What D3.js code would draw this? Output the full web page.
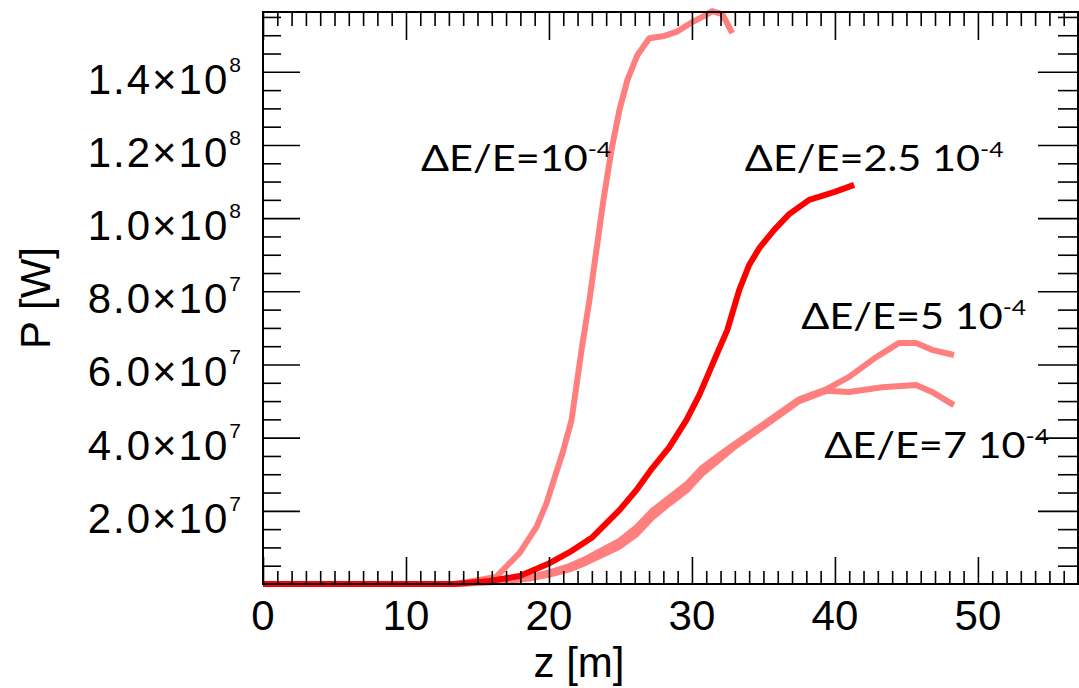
<!DOCTYPE html>
<html>
<head>
<meta charset="utf-8">
<script src="https://cdn.jsdelivr.net/npm/d3@7"></script>
<style>
  body { margin: 0; background: #fff; }
  svg { display: block; }
  .tick-label { font-family: "Liberation Sans", Arial, sans-serif; font-size: 42px; fill: #000; }
  .note { font-family: Lato, "Noto Sans", sans-serif; font-size: 37px; fill: #000; }
</style>
</head>
<body>
<svg id="chart" width="1079" height="688"></svg>
<script>
// P(z) for each energy spread, z in m, P in W
const zTight = [0, 13.5, 16.3, 17.95, 19.13, 19.83, 20.39, 20.95, 21.58, 22.28, 22.83, 23.32, 23.81, 24.37, 24.93, 25.49, 26.19, 27.02, 28.07, 28.91, 30.03, 30.87, 31.42, 32.12, 32.82]
const pTight = [0, 0, 1.9e6, 8.5e6, 1.56e7, 2.21e7, 2.9e7, 3.58e7, 4.48e7, 6.4e7, 7.76e7, 9.13e7, 1.05e8, 1.186e8, 1.296e8, 1.378e8, 1.446e8, 1.492e8, 1.498e8, 1.509e8, 1.536e8, 1.553e8, 1.566e8, 1.558e8, 1.506e8]

const zMid = [0, 13.4, 15.85, 17.95, 20.04, 21.44, 23.04, 24.93, 26.12, 27.23, 28.42, 29.61, 30.52, 31.56, 32.47, 33.31, 34.0, 34.71, 35.75, 36.8, 38.2, 39.94, 41.34]
const pMid = [0, 0, 8e5, 2.2e6, 5.7e6, 8.7e6, 1.28e7, 2.02e7, 2.57e7, 3.17e7, 3.74e7, 4.48e7, 5.17e7, 6.12e7, 6.94e7, 8.04e7, 8.72e7, 9.18e7, 9.68e7, 1.011e8, 1.05e8, 1.071e8, 1.091e8]

const zWide5 = [0, 13.76, 16.55, 18.65, 20.04, 21.44, 22.63, 24.93, 26.12, 27.23, 28.42, 29.61, 30.73, 31.91, 32.82, 35.2, 37.5, 39.39, 40.99, 42.88, 44.48, 45.67, 46.79, 48.32]
const pWide5 = [0, 0, 8e5, 1.9e6, 3.2e6, 4.9e6, 7.0e6, 1.18e7, 1.55e7, 2.0e7, 2.36e7, 2.72e7, 3.18e7, 3.52e7, 3.78e7, 4.42e7, 5.05e7, 5.32e7, 5.66e7, 6.2e7, 6.59e7, 6.59e7, 6.4e7, 6.26e7]

const zWide7 = [0, 13.76, 16.55, 18.65, 20.04, 21.44, 22.63, 24.93, 26.12, 27.23, 28.42, 29.61, 30.73, 31.91, 32.82, 35.2, 37.5, 39.39, 40.99, 43.3, 45.67, 46.79, 48.32]
const pWide7 = [0, 0, 6e5, 1.5e6, 2.6e6, 4.0e6, 5.9e6, 1.02e7, 1.36e7, 1.82e7, 2.2e7, 2.55e7, 3.02e7, 3.4e7, 3.7e7, 4.36e7, 5.0e7, 5.28e7, 5.25e7, 5.38e7, 5.44e7, 5.25e7, 4.89e7]

const xMajor = [0, 10, 20, 30, 40, 50]
const yMajor = [2e7, 4e7, 6e7, 8e7, 1e8, 1.2e8, 1.4e8]
const yLabels = [['2.0×10', '7'], ['4.0×10', '7'], ['6.0×10', '7'], ['8.0×10', '7'], ['1.0×10', '8'], ['1.2×10', '8'], ['1.4×10', '8']]

const notes = [
  { text: 'ΔE/E=10', exp: '-4', z: 11.05, p: 1.129e8 },
  { text: 'ΔE/E=2.5 10', exp: '-4', z: 33.7, p: 1.129e8 },
  { text: 'ΔE/E=5 10', exp: '-4', z: 37.65, p: 6.97e7 },
  { text: 'ΔE/E=7 10', exp: '-4', z: 39.25, p: 3.44e7 }
]

const svg = d3.select('#chart')
const plotLeft = 263, plotRight = 1078, plotTop = 12, plotBottom = 584

const x = d3.scaleLinear().domain([0, 57]).range([plotLeft, plotRight])
const y = d3.scaleLinear().domain([0, 1.5635e8]).range([plotBottom, plotTop])

const line = d3.line()
  .x(d => x(d[0]))
  .y(d => y(d[1]))

const series = [
  { z: zTight, p: pTight, color: '#ff7f7f' },
  { z: zWide5, p: pWide5, color: '#ff7f7f' },
  { z: zWide7, p: pWide7, color: '#ff7f7f' },
  { z: zMid, p: pMid, color: '#ff0000' }
]

svg.append('g')
  .selectAll('path')
  .data(series)
  .join('path')
  .attr('fill', 'none')
  .attr('stroke', d => d.color)
  .attr('stroke-width', 6)
  .attr('stroke-linejoin', 'round')
  .attr('d', d => line(d.z.map((v, i) => [v, d.p[i]])))

// frame with inward ticks on all four sides
const xMinor = d3.range(1, 57).filter(v => v % 10 !== 0)
const yMinor = d3.range(5e6, 1.56e8, 5e6).filter(v => Math.round(v / 5e6) % 4 !== 0)

function tickAxis (axis, vals, size, tf) {
  const g = svg.append('g').attr('transform', tf)
  g.call(axis.tickValues(vals).tickSizeInner(size).tickSizeOuter(0).tickFormat(''))
  g.select('.domain').remove()
  g.selectAll('line').attr('stroke', '#000').attr('stroke-width', 1.6)
  return g
}

tickAxis(d3.axisBottom(x), xMinor, -13, `translate(0,${plotBottom})`)
tickAxis(d3.axisBottom(x), xMajor, -27, `translate(0,${plotBottom})`)
tickAxis(d3.axisTop(x), xMinor, -14, `translate(0,${plotTop})`)
tickAxis(d3.axisTop(x), xMajor, -28, `translate(0,${plotTop})`)
tickAxis(d3.axisLeft(y), yMinor, -18, `translate(${plotLeft},0)`)
tickAxis(d3.axisLeft(y), yMajor, -37, `translate(${plotLeft},0)`)
tickAxis(d3.axisRight(y), yMinor, -20, `translate(${plotRight},0)`)
tickAxis(d3.axisRight(y), yMajor, -40, `translate(${plotRight},0)`)

svg.append('rect')
  .attr('x', plotLeft).attr('y', plotTop)
  .attr('width', plotRight - plotLeft).attr('height', plotBottom - plotTop)
  .attr('fill', 'none')
  .attr('stroke', '#000')
  .attr('stroke-width', 2)

// tick labels
svg.append('g')
  .selectAll('text')
  .data(xMajor)
  .join('text')
  .attr('class', 'tick-label')
  .attr('x', d => x(d))
  .attr('y', 630)
  .attr('text-anchor', 'middle')
  .text(d => d)

svg.append('g')
  .selectAll('text')
  .data(yMajor)
  .join('text')
  .attr('class', 'tick-label')
  .attr('x', 241)
  .attr('y', d => y(d) + 22)
  .attr('text-anchor', 'end')
  .attr('letter-spacing', 2)
  .each(function (d, i) {
    const t = d3.select(this)
    t.append('tspan').text(yLabels[i][0])
    t.append('tspan').attr('dy', -22).attr('font-size', 21).attr('letter-spacing', 0).text(yLabels[i][1])
  })

// axis titles
svg.append('text')
  .attr('class', 'tick-label')
  .attr('x', 579).attr('y', 677)
  .attr('text-anchor', 'middle')
  .text('z [m]')

svg.append('text')
  .attr('class', 'tick-label')
  .attr('transform', 'translate(50,298) rotate(-90)')
  .attr('text-anchor', 'middle')
  .text('P [W]')

// curve annotations (glyphs a little wider than the font, as in the picture)
svg.append('g')
  .selectAll('text')
  .data(notes)
  .join('text')
  .attr('class', 'note')
  .attr('transform', d => `translate(${x(d.z)},${y(d.p)}) scale(1.12,1)`)
  .each(function (d) {
    const t = d3.select(this)
    t.append('tspan').text(d.text)
    t.append('tspan').attr('dy', -14).attr('font-size', 22).text(d.exp)
  })
</script>
</body>
</html>
